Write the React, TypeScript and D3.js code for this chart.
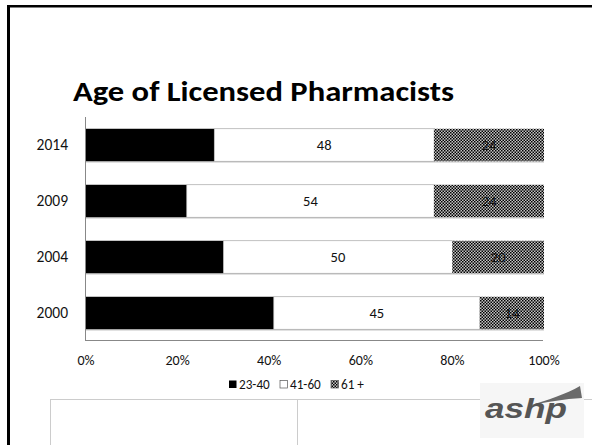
import React from "react";
import * as d3 from "d3";

const years = ["2014", "2009", "2004", "2000"];
const series = ["23-40", "41-60", "61 +"];
const age23to40 = [28, 22, 30, 41];
const age41to60 = [48, 54, 50, 45];
const age61plus = [24, 24, 20, 14];
const xTicks = [0, 20, 40, 60, 80, 100];
const title = "Age of Licensed Pharmacists";

const W = 592;
const H = 445;
const FONT = "Carlito, Lato, 'Open Sans', sans-serif";

export default function App() {
  const x = d3.scaleLinear().domain([0, 100]).range([86, 544]);
  const y = d3.scaleBand<string>().domain(years).range([117, 341]).paddingInner(0.42).paddingOuter(0.21);
  const valuesBySeries = [age23to40, age41to60, age61plus];
  const rows = years.map((yr, i) => {
    const vals = valuesBySeries.map((s) => s[i]);
    const total = d3.sum(vals);
    let acc = 0;
    return vals.map((v, k) => {
      const x0 = (acc / total) * 100;
      acc += v;
      const x1 = (acc / total) * 100;
      return { yr, k, v, x0, x1 };
    });
  });
  const fills = ["#000", "#fff", "url(#chk)"];
  const bw = y.bandwidth();

  return (
    <svg width={W} height={H} style={{ position: "absolute", left: 0, top: 0, background: "#fff" }} fontFamily={FONT}>
      <defs>
        <pattern id="chk" width="3" height="3" patternUnits="userSpaceOnUse">
          <rect width="3" height="3" fill="#c4c4c4" />
          <rect width="1.5" height="1.5" fill="#000" />
          <rect x="1.5" y="1.5" width="1.5" height="1.5" fill="#000" />
        </pattern>
      </defs>
      {/* slide frame */}
      <rect x={7} y={5} width={3} height={H - 5} fill="#000" />
      <rect x={7} y={5} width={W - 7} height={2.5} fill="#000" />

      <text x={73} y={101} fontSize={28} fontWeight="bold" fill="#000" textLength={381} lengthAdjust="spacingAndGlyphs">
        {title}
      </text>

      {/* bars */}
      {rows.map((segs) =>
        segs.map((s) => (
          <g key={s.yr + s.k}>
            <rect x={x(s.x0)} y={(y(s.yr) as number) + 1.5} width={x(s.x1) - x(s.x0)} height={bw} fill="#bbb" opacity={0.6} />
            <rect
              x={x(s.x0)}
              y={y(s.yr) as number}
              width={x(s.x1) - x(s.x0)}
              height={bw}
              fill={fills[s.k]}
              stroke={s.k === 1 ? "#999" : "none"}
              strokeWidth={0.6}
            />
            {s.k > 0 && (
              <text
                x={(x(s.x0) + x(s.x1)) / 2}
                y={(y(s.yr) as number) + bw / 2 + 5}
                textAnchor="middle"
                fontSize={14.5}
                fill="#111"
              >
                {s.v}
              </text>
            )}
          </g>
        ))
      )}

      {/* axes */}
      <line x1={85.5} x2={85.5} y1={117} y2={341} stroke="#888" strokeWidth={1} />
      <line x1={85.5} x2={543} y1={340.5} y2={340.5} stroke="#888" strokeWidth={1} />
      {years.map((yr) => (
        <text key={yr} x={68} y={(y(yr) as number) + bw / 2 + 5} textAnchor="end" fontSize={15.5} fill="#111">
          {yr}
        </text>
      ))}
      {xTicks.map((t) => (
        <text key={t} x={x(t)} y={365} textAnchor="middle" fontSize={14} fill="#111">
          {t + "%"}
        </text>
      ))}

      {/* legend */}
      {series.map((name, i) => {
        const lx = [229, 280, 331][i];
        return (
          <g key={name}>
            <rect x={lx} y={380.5} width={7.5} height={7.5} fill={fills[i]} stroke={i === 0 ? "none" : "#555"} strokeWidth={0.7} />
            <text x={lx + 10} y={389} fontSize={13.2} fill="#111">
              {name}
            </text>
          </g>
        );
      })}

      {/* lower table lines */}
      <line x1={50} x2={W} y1={399.5} y2={399.5} stroke="#ccc" strokeWidth={1} />
      <line x1={50.5} x2={50.5} y1={399.5} y2={H} stroke="#ccc" strokeWidth={1} />
      <line x1={297.5} x2={297.5} y1={399.5} y2={H} stroke="#ccc" strokeWidth={1} />

      {/* logo */}
      <rect x={480} y={383} width={104} height={55} fill="#f6f6f6" />
      <path d="M528,406 C548,400 566,394 580,386 L582,398 C565,399 545,402 528,406 Z" fill="#6a6a6a" />
      <text x={485} y={418} fontSize={27} fontWeight="bold" fontStyle="italic" fill="#555" fontFamily="'Liberation Sans', Arial, sans-serif" textLength={82} lengthAdjust="spacingAndGlyphs">
        ashp
      </text>
    </svg>
  );
}
